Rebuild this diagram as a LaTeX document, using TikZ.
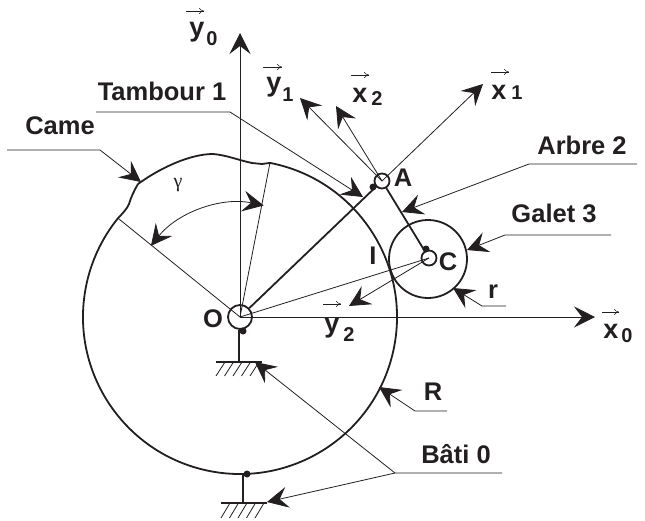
\documentclass[tikz,border=0pt]{standalone}
\usepackage{fontspec}
\setmainfont{Liberation Sans}
\newfontfamily\gammafont{Liberation Serif}
\usetikzlibrary{arrows.meta,calc}
\definecolor{ink}{HTML}{231F20}
\tikzset{
  tipbig/.tip={Stealth[length=21pt,width=21pt,inset=8pt]},
  thinline/.style={draw=ink,line width=0.8pt},
  axisline/.style={thinline,-{tipbig}},
  leader/.style={thinline,-{tipbig}},
  thickline/.style={draw=ink,line width=1.8pt},
  hatchline/.style={draw=ink,line width=0.8pt},
  vecarrow/.style={draw=ink,line width=0.5pt,-{To[length=5pt,width=6pt]}},
  lab/.style={text=ink,font=\fontsize{25.5}{25.5}\selectfont\bfseries,inner sep=0pt},
  letter/.style={text=ink,font=\fontsize{27}{27}\selectfont\bfseries,inner sep=0pt},
  subs/.style={text=ink,font=\fontsize{20}{20}\selectfont\bfseries,inner sep=0pt},
  blob/.style={fill=ink,draw=none,circle,minimum size=7pt,inner sep=0pt},
}
\begin{document}
\begin{tikzpicture}[x=1pt,y=-1pt]
\useasboundingbox (0,0) rectangle (645,520);
% key points
\coordinate (O) at (240,317);
\coordinate (A) at (382,181);
\coordinate (C) at (429,258);
\coordinate (Gc) at (428,259);
\coordinate (y0tip) at (240,33);
\coordinate (x0tip) at (595,317);
\coordinate (y1tip) at (300,98);
\coordinate (x1tip) at (483,84);
\coordinate (x2tip) at (336,106);
\coordinate (y2tip) at (349,306);
\coordinate (camA) at ($(O)+(79:157pt)$);
\coordinate (camB) at ($(O)+(141:157pt)$);
% cam
\draw[thickline,line join=round] (camA) arc[start angle=79,end angle=-219,radius=157pt]
  .. controls (122,214) and (127,209) .. (129,204)
  .. controls (131,197) and (134,191) .. (138,184)
  .. controls (160,168) and (190,154) .. (213,154)
  .. controls (226,155) and (238,160) .. (252,163)
  -- (262,164) -- (camA);
% gamma lines
\draw[thinline] (O) -- (camA);
\draw[thinline] (O) -- (camB);
\draw[thinline,{tipbig}-{tipbig}] ($(O)+(141.4:114pt)$) arc[start angle=141.4,end angle=78,radius=114pt];
% axes
\draw[axisline] (O) -- (y0tip);
\draw[axisline] (O) -- (x0tip);
\draw[axisline] (A) -- (y1tip);
\draw[axisline] (A) -- (x1tip);
\draw[axisline] (A) -- (x2tip);
\draw[axisline] (C) -- (y2tip);
\draw[thinline] (O) -- (C);
% rigid links
\node[draw=ink,line width=1.8pt,circle,minimum size=24pt,inner sep=0pt] (Ocirc) at (O) {};
\node[draw=ink,line width=1.8pt,circle,minimum size=15pt,inner sep=0pt] (Acirc) at (A) {};
\node[draw=ink,line width=1.8pt,circle,minimum size=15pt,inner sep=0pt] (Ccirc) at (C) {};
\node[draw=ink,line width=1.8pt,circle,minimum size=78pt,inner sep=0pt] (galet) at (Gc) {};
\draw[thickline] (Ocirc) -- (Acirc);
\draw[thickline] (Acirc) -- (Ccirc);
\node[blob] (b1) at (373,187) {};
\node[blob] (b2) at (426,249) {};
\node[blob] (b3) at (243,331) {};
\node[blob] (b4) at (247,474) {};
% ground supports
\coordinate (g1) at (239,362);
\coordinate (g2) at (243,503);
\draw[thickline] (Ocirc.south) ++(-1,0) -- (g1);
\draw[thickline] (243,473) -- (g2);
\draw[thickline] (216,362) -- (262,362);
\draw[thickline] (221,503) -- (267,503);
\foreach \x in {225,233.5,242,250.5,259}
  \draw[hatchline] (\x,362) -- ++(-9,14);
\foreach \x in {230,238.5,247,255.5,264}
  \draw[hatchline] (\x,503) -- ++(-9,15);
% leaders
\coordinate (tam0) at (96,112);\coordinate (tam1) at (230,112);\coordinate (tamt) at (363,197);
\draw[leader] (tam0) -- (tam1) -- (tamt);
\coordinate (cam0) at (7,150);\coordinate (cam1) at (100,150);\coordinate (camt) at (141,182);
\draw[leader] (cam0) -- (cam1) -- (camt);
\coordinate (arb0) at (637,164);\coordinate (arb1) at (529,164);\coordinate (arbt) at (402,212);
\draw[leader] (arb0) -- (arb1) -- (arbt);
\coordinate (gal0) at (611,235);\coordinate (gal1) at (505,235);\coordinate (galt) at (467,250);
\draw[leader] (gal0) -- (gal1) -- (galt);
\coordinate (r0) at (506,306);\coordinate (r1) at (482,306);\coordinate (rt) at (453,288);
\draw[leader] (r0) -- (r1) -- (rt);
\coordinate (R0) at (447,411);\coordinate (R1) at (415,411);\coordinate (Rt) at (379,387);
\draw[leader] (R0) -- (R1) -- (Rt);
\coordinate (bat0) at (502,473);\coordinate (bat1) at (395,473);\coordinate (batt1) at (255,362);\coordinate (batt2) at (267,502);
\draw[leader] (bat0) -- (bat1) -- (batt1);
\draw[leader] (bat1) -- (batt2);
% labels
\node[lab] (ltam) at (162,91) {Tambour 1};
\node[lab] (lcam) at (60,126) {Came};
\node[lab] (larb) at (582,145) {Arbre 2};
\node[lab] (lgal) at (554,213) {Galet 3};
\node[lab] (lbat) at (456,454) {Bâti 0};
\node[lab] (lO) at (213,319) {O};
\node[lab] (lA) at (403,178) {A};
\node[lab] (lC) at (448,262) {C};
\node[lab] (lI) at (373,256) {I};
\node[lab] (lr) at (493,292) {r};
\node[lab] (lR) at (433,392) {R};
\node[text=ink,inner sep=0pt,font=\fontsize{20}{20}\selectfont\gammafont] (lg) at (178,185) {γ};
% vector labels
\node[letter] (ny0) at (197,32) {y};
\node[subs] (s0) at (212,39) {0};
\draw[vecarrow] (186,11) -- (204,11);
\node[letter] (ny1) at (274,87) {y};
\node[subs] (s1) at (288,95) {1};
\draw[vecarrow] (263,67) -- (282,67);
\node[letter] (nx2) at (360,95) {x};
\node[subs] (s2) at (377,99) {2};
\draw[vecarrow] (351,75) -- (369,75);
\node[letter] (nx1) at (499,92) {x};
\node[subs] (s3) at (517,93) {1};
\draw[vecarrow] (491,72) -- (509,72);
\node[letter] (nx0) at (611,331) {x};
\node[subs] (s4) at (627,336) {0};
\draw[vecarrow] (602,312) -- (619,312);
\node[letter] (ny2) at (332,328) {y};
\node[subs] (s5) at (349,335) {2};
\draw[vecarrow] (323,304) -- (341,304);
\end{tikzpicture}
\end{document}
